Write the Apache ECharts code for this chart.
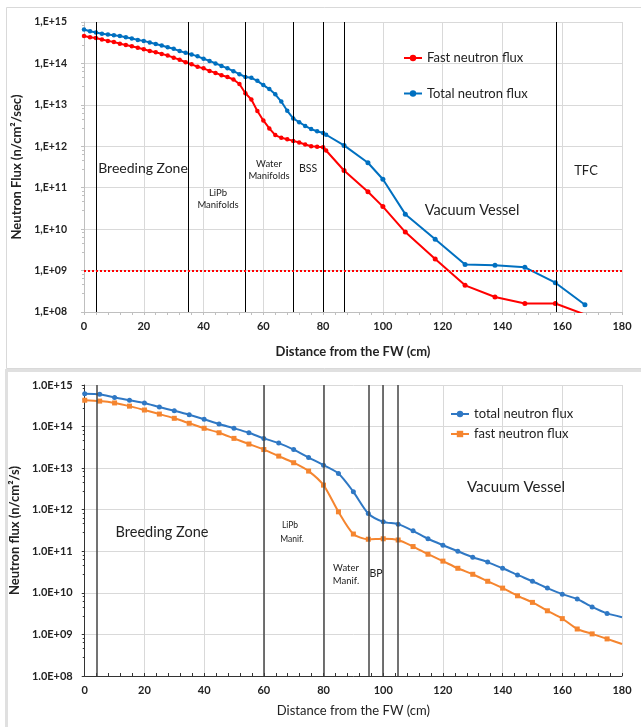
<!DOCTYPE html>
<html>
<head>
<meta charset="utf-8">
<script src="https://cdn.jsdelivr.net/npm/echarts@6/dist/echarts.min.js"></script>
<style>
html,body{margin:0;padding:0;background:#fff;}
#chart{width:641px;height:727px;}
</style>
</head>
<body>
<div id="chart"></div>
<script>
// ---------- DATA ----------
// Top chart (distance cm)
const topX = [0,2,4,6,8,10,12,14,16,18,20,22,24,26,28,30,32,34,36,38,40,42,44,46,48,50,52,54,56,58,60,62,64,66,68,70,72,74,76,78,80,81,87,95,100,107.5,117.5,127.5,137.5,147.5,157.7,167.6];
const topFast = [4.6e14,4.3e14,4.1e14,3.8e14,3.5e14,3.3e14,3.0e14,2.8e14,2.6e14,2.4e14,2.2e14,2.0e14,1.86e14,1.7e14,1.55e14,1.38e14,1.23e14,1.07e14,9.5e13,8.3e13,7.6e13,6.6e13,5.9e13,5.2e13,4.7e13,4.1e13,3.2e13,1.9e13,1.35e13,7.1e12,4.2e12,2.7e12,1.86e12,1.6e12,1.48e12,1.35e12,1.23e12,1.1e12,1.0e12,9.8e11,9.5e11,7.9e11,2.6e11,8.0e10,3.5e10,8.5e9,1.9e9,4.4e8,2.3e8,1.6e8,1.6e8,8.7e7];
const topTotal = [6.6e14,6.0e14,5.6e14,5.2e14,5.0e14,4.8e14,4.6e14,4.3e14,4.0e14,3.7e14,3.5e14,3.2e14,2.95e14,2.7e14,2.45e14,2.25e14,2.0e14,1.8e14,1.65e14,1.48e14,1.3e14,1.15e14,1.0e14,8.7e13,7.6e13,6.5e13,5.5e13,4.7e13,4.5e13,3.8e13,3.0e13,2.4e13,1.8e13,1.2e13,7.2e12,4.7e12,3.8e12,3.1e12,2.6e12,2.3e12,2.1e12,1.9e12,1.05e12,4.0e11,1.6e11,2.3e10,5.7e9,1.4e9,1.35e9,1.2e9,5.1e8,1.5e8];
const topBoundaries = [4,35,54,70,80,87,158];
const topThreshold = 1e9;
const topYTickLabels = ['1,E+08','1,E+09','1,E+10','1,E+11','1,E+12','1,E+13','1,E+14','1,E+15'];

// Bottom chart
const bottomX = [0,5,10,15,20,25,30,35,40,45,50,55,60,65,70,75,80,85,90,95,100,105,110,115,120,125,130,135,140,145,150,155,160,165,170,175,180];
const bottomTotal = [6.2e14,6.0e14,5.0e14,4.3e14,3.7e14,2.95e14,2.4e14,1.93e14,1.5e14,1.15e14,9.1e13,7.1e13,5.2e13,4.0e13,2.8e13,1.8e13,1.18e13,7.4e12,2.7e12,8.1e11,5.1e11,4.5e11,3.1e11,2.0e11,1.4e11,1.0e11,7.2e10,5.5e10,3.9e10,2.7e10,1.9e10,1.3e10,9.3e9,7.1e9,4.6e9,3.2e9,2.6e9];
const bottomFast = [4.3e14,4.1e14,3.7e14,3.1e14,2.5e14,2.0e14,1.58e14,1.2e14,9.1e13,7.1e13,5.2e13,3.8e13,2.8e13,1.95e13,1.35e13,8.5e12,3.9e12,8.9e11,2.6e11,1.95e11,2.0e11,1.87e11,1.3e11,8.5e10,5.8e10,3.9e10,2.8e10,1.9e10,1.3e10,8.5e9,5.9e9,3.7e9,2.4e9,1.35e9,1.03e9,7.8e8,5.9e8];
const bottomBoundaries = [4,60,80,95,100,105];
const bottomYTickLabels = ['1.0E+08','1.0E+09','1.0E+10','1.0E+11','1.0E+12','1.0E+13','1.0E+14','1.0E+15'];

const xTickLabels = ['0','20','40','60','80','100','120','140','160','180'];

const topSeriesNames = ['Fast neutron flux','Total neutron flux'];
const bottomSeriesNames = ['total neutron flux','fast neutron flux'];
const xTitle = 'Distance from the FW (cm)';
const topYTitle = 'Neutron Flux (n/cm\u00B2/sec)';
const bottomYTitle = 'Neutron flux (n/cm\u00B2/s)';

// ---------- CHART ----------
const FONT = 'Lato, "Liberation Sans", sans-serif';
const chart = echarts.init(document.getElementById('chart'), null, {renderer:'canvas'});

const pair = (xs, ys) => xs.map((x,i)=>[x, ys[i]]);
const pairLastNoSym = (xs, ys) => xs.map((x,i)=> i===xs.length-1 ? {value:[x,ys[i]], symbol:'none'} : [x, ys[i]]);
const yFmt = labels => v => labels[Math.round(Math.log10(v)) - 8];
const xFmt = v => xTickLabels[Math.round(v/20)];

function yAxisCfg(gridIndex, labels, name, nameGap, axisColor, labelMargin, labelSize) {
  return {
    type:'log', logBase:10, gridIndex, min:1e8, max:1e15, splitNumber:7,
    name, nameLocation:'middle', nameGap, nameRotate:90,
    nameTextStyle:{fontFamily:FONT, fontSize:13, fontWeight:'bold', color:'#222'},
    axisLine:{show:true, lineStyle:{color:axisColor, width:1}},
    axisTick:{show:true, length:3, lineStyle:{color:axisColor}},
    minorTick:{show:true, splitNumber:5, length:2, lineStyle:{color:axisColor}},
    splitLine:{show:true, lineStyle:{color:'#d9d9d9', width:1}},
    axisLabel:{formatter:yFmt(labels), fontFamily:FONT, fontSize:labelSize, fontWeight:'bold', color:'#222', margin:labelMargin}
  };
}
function xAxisCfg(gridIndex, nameGap, axisColor, nameBold) {
  return {
    type:'value', gridIndex, min:0, max:180, interval:20,
    name:xTitle, nameLocation:'middle', nameGap,
    nameTextStyle:{fontFamily:FONT, fontSize:13, fontWeight:nameBold?'bold':'normal', color:'#222'},
    axisLine:{show:true, onZero:false, lineStyle:{color:axisColor, width:1}},
    axisTick:{show:true, length:3, inside:gridIndex===1, lineStyle:{color:axisColor}},
    minorTick:{show:true, splitNumber:5, length:3, lineStyle:{color:axisColor}},
    splitLine:{show:true, lineStyle:{color:'#d9d9d9', width:1}},
    axisLabel:{formatter:xFmt, fontFamily:FONT, fontSize:11, fontWeight:'bold', color:'#222', margin:9}
  };
}

const txt = (text, x, y, size, weight) => ({
  type:'text', silent:true, z:50,
  style:{text, x, y, fill:'#222', font:(weight||'normal')+' '+size+'px '+FONT,
         textAlign:'center', textVerticalAlign:'middle', align:'center', verticalAlign:'middle'}
});

const option = {
  animation:false,
  backgroundColor:'#fff',
  grid:[
    {left:84, top:22, width:538, height:290, containLabel:false},
    {left:84, top:385, width:538, height:291, containLabel:false}
  ],
  xAxis:[ xAxisCfg(0, 33, '#bfbfbf', true), xAxisCfg(1, 28, '#333', false) ],
  yAxis:[
    yAxisCfg(0, topYTickLabels, topYTitle, 52, '#bfbfbf', 17, 10.5),
    yAxisCfg(1, bottomYTickLabels, bottomYTitle, 58, '#333', 12, 11)
  ],
  legend:[
    {data:topSeriesNames, orient:'vertical', left:403, top:51, itemGap:21.5, itemWidth:18, itemHeight:8,
     textStyle:{fontFamily:FONT, fontSize:13, color:'#222', lineHeight:14}, padding:0},
    {data:bottomSeriesNames, orient:'vertical', left:450, top:407, itemGap:6, itemWidth:18, itemHeight:8,
     textStyle:{fontFamily:FONT, fontSize:13, color:'#222', lineHeight:14}, padding:0}
  ],
  graphic:[
    {type:'rect', silent:true, z:-10, shape:{x:6.5, y:7.5, width:640, height:361}, style:{fill:'none', stroke:'#d9d9d9', lineWidth:1}},
    {type:'rect', silent:true, z:-10, shape:{x:6.5, y:370.5, width:640, height:360}, style:{fill:'none', stroke:'#e0e0e0', lineWidth:3}},
    txt('Breeding Zone', 143, 168, 14),
    txt('LiPb', 218, 193, 9.5),
    txt('Manifolds', 218, 205, 9.5),
    txt('Water', 269, 164, 9.5),
    txt('Manifolds', 269, 176, 9.5),
    txt('BSS', 308, 169, 10.5),
    txt('Vacuum Vessel', 472, 210, 14.5),
    txt('TFC', 586, 171, 13),
    txt('Breeding Zone', 162, 532, 14.5),
    txt('LiPb', 290, 525, 8.5),
    txt('Manif.', 292, 539, 8.5),
    txt('Water', 346, 568, 9.5),
    txt('Manif.', 346, 581, 9.5),
    txt('BP', 376, 574, 10.5),
    txt('Vacuum Vessel', 516, 487, 15)
  ],
  series:[
    {
      name:topSeriesNames[0], type:'line', xAxisIndex:0, yAxisIndex:0,
      data:pair(topX, topFast), symbol:'circle',
      symbolSize:(v)=> v[0] <= 81 ? 4.5 : 5,
      lineStyle:{color:'#ff0000', width:2}, itemStyle:{color:'#ff0000'},
      markLine:{silent:true, symbol:['none','none'], label:{show:false},
        lineStyle:{color:'#000', width:1, type:'solid'},
        data: topBoundaries.map(x=>({xAxis:x})).concat([{yAxis:topThreshold, lineStyle:{color:'#ff0000', width:2, type:[2,2]}}])
      }
    },
    {
      name:topSeriesNames[1], type:'line', xAxisIndex:0, yAxisIndex:0,
      data:pair(topX, topTotal), symbol:'circle',
      symbolSize:(v)=> v[0] <= 81 ? 4.5 : 5,
      lineStyle:{color:'#0070c0', width:2}, itemStyle:{color:'#0070c0'}
    },
    {
      name:bottomSeriesNames[0], type:'line', xAxisIndex:1, yAxisIndex:1,
      data:pairLastNoSym(bottomX, bottomTotal), symbol:'circle', symbolSize:5, smooth:0.25,
      lineStyle:{color:'#2f78c4', width:2}, itemStyle:{color:'#2f78c4'},
      markLine:{silent:true, symbol:['none','none'], label:{show:false},
        lineStyle:{color:'#444', width:1.5, type:'solid'},
        data: bottomBoundaries.map(x=>({xAxis:x}))
      }
    },
    {
      name:bottomSeriesNames[1], type:'line', xAxisIndex:1, yAxisIndex:1,
      data:pairLastNoSym(bottomX, bottomFast), symbol:'rect', symbolSize:5, smooth:0.25,
      lineStyle:{color:'#f5852f', width:2}, itemStyle:{color:'#f5852f'}
    }
  ]
};
chart.setOption(option);
</script>
</body>
</html>
